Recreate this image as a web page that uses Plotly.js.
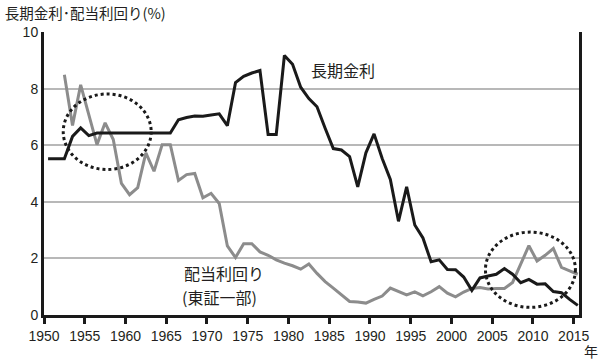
<!DOCTYPE html>
<html>
<head>
<meta charset="utf-8">
<script src="https://cdn.plot.ly/plotly-3.0.1.min.js"></script>
<style>html,body{margin:0;padding:0;background:#fff;}#chart{width:600px;height:364px;}</style>
</head>
<body>
<div id="chart"></div>
<script>
const years = [1950,1951,1952,1953,1954,1955,1956,1957,1958,1959,
  1960,1961,1962,1963,1964,1965,1966,1967,1968,1969,
  1970,1971,1972,1973,1974,1975,1976,1977,1978,1979,
  1980,1981,1982,1983,1984,1985,1986,1987,1988,1989,
  1990,1991,1992,1993,1994,1995,1996,1997,1998,1999,
  2000,2001,2002,2003,2004,2005,2006,2007,2008,2009,
  2010,2011,2012,2013,2014,2015];

// 長期金利 (%)
const longRate = [5.52,5.52,5.52,6.31,6.61,6.34,6.43,6.43,6.43,6.43,
  6.43,6.43,6.43,6.43,6.43,6.43,6.90,6.98,7.03,7.02,
  7.07,7.11,6.69,8.21,8.43,8.55,8.64,6.38,6.38,9.17,
  8.86,8.05,7.65,7.36,6.60,5.88,5.83,5.60,4.53,5.73,
  6.40,5.53,4.79,3.31,4.53,3.18,2.72,1.88,1.95,1.61,
  1.60,1.34,0.87,1.31,1.38,1.44,1.64,1.44,1.14,1.26,
  1.09,1.10,0.83,0.79,0.55,0.34];

// 配当利回り（東証一部） (%)
const dividendYield = [null,null,8.49,6.70,8.13,7.05,6.02,6.79,6.20,4.65,
  4.25,4.50,5.73,5.08,6.02,6.02,4.75,4.96,5.00,4.14,
  4.30,3.94,2.44,2.03,2.52,2.52,2.23,2.11,1.95,1.83,
  1.74,1.62,1.80,1.47,1.18,0.95,0.71,0.48,0.46,0.42,
  0.55,0.67,0.95,0.82,0.71,0.82,0.68,0.82,1.00,0.77,
  0.64,0.81,0.94,0.97,0.92,0.94,0.94,1.15,1.82,2.45,
  1.91,2.11,2.35,1.68,1.56,1.44];

const tickYears = [1950,1955,1960,1965,1970,1975,1980,1985,1990,1995,2000,2005,2010,2015];
const yTicks = [0,2,4,6,8,10];

const titleText = '長期金利･配当利回り(%)';
const longLabel = '長期金利';
const divLabel1 = '配当利回り';
const divLabel2 = '(東証一部)';
const unitLabel = '年';

const cjk = '"Noto Sans CJK JP", "Noto Sans", sans-serif';
const num = '"Liberation Sans", Arial, sans-serif';

const traces = [
  {x: years, y: dividendYield, type: 'scatter', mode: 'lines',
   line: {color: '#8c8c8c', width: 3}, connectgaps: false, hoverinfo: 'skip'},
  {x: years, y: longRate, type: 'scatter', mode: 'lines',
   line: {color: '#1a1a1a', width: 3}, hoverinfo: 'skip'}
];

const layout = {
  width: 600, height: 364,
  margin: {l: 44, r: 21, t: 32, b: 49},
  paper_bgcolor: '#ffffff', plot_bgcolor: '#ffffff',
  showlegend: false,
  title: {text: titleText, font: {family: cjk, size: 14.5, color: '#231f20'},
          x: 0.008, xanchor: 'left', xref: 'container', y: 0.962, yanchor: 'middle', yref: 'container'},
  xaxis: {
    range: [1949.5, 2015.15],
    tickvals: tickYears.map(v => v - 0.5),
    ticktext: tickYears.map(String),
    ticks: 'outside', ticklen: 6, tickwidth: 3, tickcolor: '#1a1a1a',
    showline: true, linecolor: '#1a1a1a', linewidth: 3,
    showgrid: false, zeroline: false,
    tickfont: {family: num, size: 14, color: '#231f20'}
  },
  yaxis: {
    range: [0, 10],
    tickvals: yTicks,
    ticktext: yTicks.map(String),
    ticks: '',
    showline: true, linecolor: '#1a1a1a', linewidth: 3, mirror: true,
    showgrid: true, gridcolor: '#b8b8b8', gridwidth: 2,
    zeroline: false,
    tickfont: {family: num, size: 14, color: '#231f20'}
  },
  shapes: [
    {type: 'circle', xref: 'x', yref: 'y', x0: 1951.86, x1: 1962.65, y0: 5.14, y1: 7.81,
     line: {color: '#1a1a1a', width: 3, dash: '3px,3px'}, layer: 'above'},
    {type: 'circle', xref: 'x', yref: 'y', x0: 2003.67, x1: 2014.71, y0: 0.27, y1: 2.93,
     line: {color: '#1a1a1a', width: 3, dash: '3px,3px'}, layer: 'above'}
  ],
  annotations: [
    {text: longLabel, xref: 'paper', yref: 'paper', x: 0.496, y: 0.866, xanchor: 'left', yanchor: 'middle',
     showarrow: false, font: {family: cjk, size: 16, color: '#231f20'}},
    {text: divLabel1, xref: 'paper', yref: 'paper', x: 0.258, y: 0.148, xanchor: 'left', yanchor: 'middle',
     showarrow: false, font: {family: cjk, size: 16, color: '#231f20'}},
    {text: divLabel2, xref: 'paper', yref: 'paper', x: 0.255, y: 0.065, xanchor: 'left', yanchor: 'middle',
     showarrow: false, font: {family: cjk, size: 16, color: '#231f20'}},
    {text: unitLabel, xref: 'paper', yref: 'paper', x: 1.022, y: -0.127, xanchor: 'center', yanchor: 'middle',
     showarrow: false, font: {family: cjk, size: 14, color: '#231f20'}}
  ]
};

Plotly.newPlot('chart', traces, layout, {staticPlot: true, displayModeBar: false});
</script>
</body>
</html>
